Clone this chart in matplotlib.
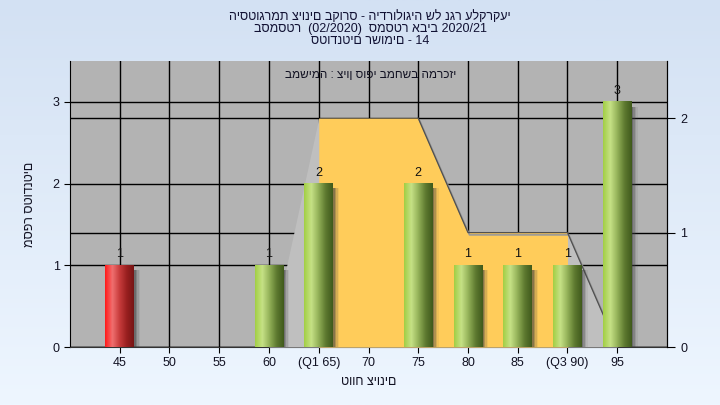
import numpy as np
import matplotlib.pyplot as plt
from matplotlib.colors import LinearSegmentedColormap

plt.rcParams['font.family'] = ['Liberation Sans', 'DejaVu Sans']

# ── data ──────────────────────────────────────────────────────────────────────
grades      = [45, 50, 55, 60, 65, 70, 75, 80, 85, 90, 95]
tick_labels = ['45', '50', '55', '60', '(Q1 65)', '70', '75', '80', '85', '(Q3 90)', '95']
counts      = [1, 0, 0, 1, 2, 0, 2, 1, 1, 1, 3]
bar_kind    = ['fail', 'pass', 'pass', 'pass', 'pass', 'pass', 'pass', 'pass', 'pass', 'pass', 'pass']
curve       = [0, 0, 0, 0, 2, 2, 2, 1, 1, 1, 0]   # right axis
Q1, Q3      = 65, 90

title = '\n'.join([
    'היסטוגרמת ציונים בקורס - הידרולוגיה של נגר עלקרקעי',
    'בסמסטר  (02/2020)  סמסטר אביב 2020/21',
    'סטודנטים רשומים - 14',
])
note   = 'במשימה : ציון סופי במחשב המרכזי'
xlabel = 'טווח ציונים'
ylabel = 'מספר סטודנטים'

# ── figure + background gradient ──────────────────────────────────────────────
fig = plt.figure(figsize=(7.2, 4.05), dpi=100)
bg = fig.add_axes([0, 0, 1, 1], zorder=-10)
bg_cmap = LinearSegmentedColormap.from_list('bg', ['#d3e1f3', '#eef6ff'])
bg.imshow(np.linspace(0, 1, 256).reshape(-1, 1), aspect='auto', cmap=bg_cmap,
          extent=[0, 1, 0, 1])
bg.axis('off')

rect = [70 / 720, 58 / 405, 597 / 720, 286 / 405]
ax = fig.add_axes(rect)
ax.set_facecolor('#b3b3b3')
ax.set_xlim(40, 100)
ax.set_ylim(0, 3.5)
ax.set_yticks([0, 1, 2, 3])
ax.set_xticks(grades)
ax.set_xticklabels(tick_labels)
ax.grid(True, color='black', lw=1)
ax.set_axisbelow(True)
ax.tick_params(labelsize=9, length=4, color='black', labelcolor='#111122')
ax.spines['top'].set_visible(False)
ax.spines['bottom'].set_color('#333333')
ax.set_xlabel(xlabel, fontsize=9, labelpad=5, color='#111122')
ax.set_ylabel(ylabel, fontsize=9, labelpad=12, color='#111122')

# right axis: distribution area
ax2 = ax.twinx()
ax2.set_ylim(0, 2.5)
ax2.set_yticks([0, 1, 2])
ax2.grid(True, axis='y', color='black', lw=1, zorder=0)
ax2.tick_params(labelsize=9, length=6, color='black', labelcolor='#111122')
for side in ['top', 'left', 'bottom']:
    ax2.spines[side].set_visible(False)
g = np.array(grades, dtype=float)
c = np.array(curve, dtype=float)
ax2.fill_between(g, 0, c, color='#bfbfbf', lw=0, zorder=2)
ax2.fill_between(g, 0, c, where=(g >= Q1) & (g <= Q3), color='#ffcc5a', lw=0, zorder=3)
ax2.plot(g[6:] + 0.15, c[6:] - 0.02, color='#9a9a9a', lw=1.2, zorder=3.5)
ax2.plot(g[6:], c[6:], color='#505050', lw=0.9, zorder=4)

# bars on top layer, left-axis scale
ax3 = ax.twinx()
ax3.set_ylim(0, 3.5)
ax3.axis('off')
bars = ax3.bar(grades, counts, width=2.9, color='none', lw=0)

stops = {
    'pass': ['#a2cf45', '#c6e186', '#93b158', '#5e7a30', '#405a1c'],
    'fail': ['#ff1a1a', '#f07070', '#c83c3c', '#9a2020', '#761414'],
}
for p, n, kind in zip(bars, counts, bar_kind):
    if n == 0:
        continue
    x0, w, h = p.get_x(), p.get_width(), p.get_height()
    # soft shadow on the right
    for k, a in enumerate([0.35, 0.25, 0.15, 0.08]):
        ax3.add_patch(plt.Rectangle((x0 + w, 0), 0.15 * (k + 1), h - 0.06,
                                    color='#404040', alpha=a, lw=0, zorder=3))
    cmap = LinearSegmentedColormap.from_list(kind, stops[kind])
    ax3.imshow(np.linspace(0, 1, 64).reshape(1, -1), cmap=cmap, aspect='auto',
               extent=[x0, x0 + w, 0, h], zorder=4)
    ax3.text(x0 + w / 2, h + 0.06, str(n), ha='center', va='bottom',
             fontsize=9, color='#111111', zorder=5)
ax3.set_xlim(40, 100)
ax3.set_ylim(0, 3.5)

ax3.text(0.503, 0.95, note, transform=ax3.transAxes, ha='center', va='center',
         fontsize=8.5, color='#111122')

fig.text(0.514, 0.975, title, ha='center', va='top', fontsize=9,
         color='#111133', linespacing=1.0)

fig.savefig('out.png', dpi=100)
